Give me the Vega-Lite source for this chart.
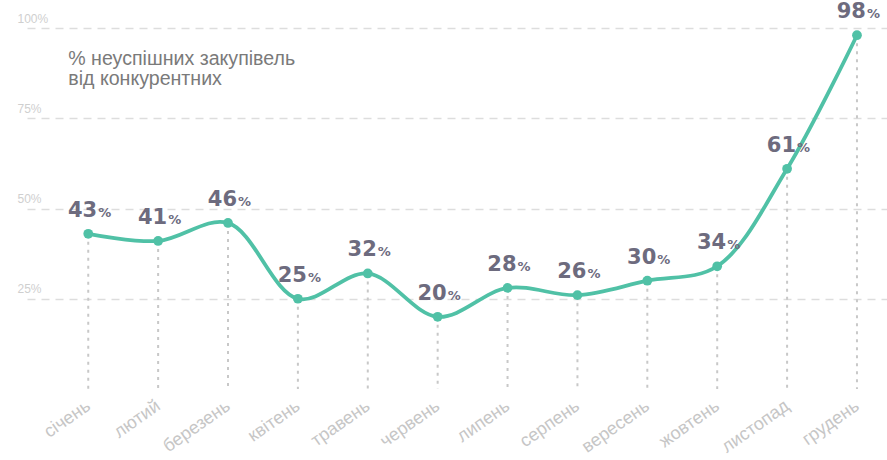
{
  "$schema": "https://vega.github.io/schema/vega-lite/v6.json",
  "width": 860,
  "height": 361,
  "autosize": "none",
  "padding": {"left": 27, "top": 28, "right": 0, "bottom": 71},
  "background": "white",
  "config": {
    "view": {"stroke": null},
    "font": "Liberation Sans"
  },
  "data": {
    "values": [
      {"month": "січень", "v": 43},
      {"month": "лютий", "v": 41},
      {"month": "березень", "v": 46},
      {"month": "квітень", "v": 25},
      {"month": "травень", "v": 32},
      {"month": "червень", "v": 20},
      {"month": "липень", "v": 28},
      {"month": "серпень", "v": 26},
      {"month": "вересень", "v": 30},
      {"month": "жовтень", "v": 34},
      {"month": "листопад", "v": 61},
      {"month": "грудень", "v": 98}
    ]
  },
  "encoding": {
    "x": {
      "field": "month",
      "type": "ordinal",
      "sort": null,
      "scale": {"type": "point", "padding": 0.653, "align": 0.671},
      "axis": {
        "title": null,
        "domain": false,
        "ticks": false,
        "grid": false,
        "labelAngle": -35,
        "labelAlign": "right",
        "labelBaseline": "middle",
        "labelPadding": 15,
        "labelFont": "Liberation Sans",
        "labelFontSize": 18,
        "labelColor": "#c6c6c6"
      }
    }
  },
  "layer": [
    {
      "mark": {"type": "rule", "color": "#c8c8c8", "strokeWidth": 2, "strokeDash": [3, 5]},
      "encoding": {
        "y": {
          "field": "v",
          "type": "quantitative",
          "scale": {"domain": [0, 100], "nice": false, "zero": true},
          "axis": {
            "title": null,
            "domain": false,
            "ticks": false,
            "tickSize": 0,
            "values": [25, 50, 75, 100],
            "labelExpr": "datum.value + '%'",
            "labelAlign": "left",
            "labelBaseline": "alphabetic",
            "labelPadding": 10,
            "labelOffset": -6,
            "labelFont": "Liberation Sans",
            "labelFontSize": 12,
            "labelColor": "#cfcfcf",
            "grid": true,
            "gridColor": "#dddddd",
            "gridWidth": 1.5,
            "gridDash": [8, 6]
          }
        },
        "y2": {"datum": 0}
      }
    },
    {
      "mark": {"type": "line", "color": "#50c1a6", "strokeWidth": 3.8, "interpolate": "catmull-rom"},
      "encoding": {"y": {"field": "v", "type": "quantitative"}}
    },
    {
      "mark": {"type": "point", "filled": true, "opacity": 1, "color": "#50c1a6", "size": 95},
      "encoding": {"y": {"field": "v", "type": "quantitative"}}
    },
    {
      "mark": {"type": "text", "align": "right", "baseline": "alphabetic", "dx": 9, "dy": -17, "font": "DejaVu Sans", "fontWeight": "bold", "fontSize": 21, "color": "#6d6b7e"},
      "encoding": {"y": {"field": "v", "type": "quantitative"}, "text": {"field": "v", "type": "quantitative"}}
    },
    {
      "mark": {"type": "text", "align": "left", "baseline": "alphabetic", "dx": 10, "dy": -17, "font": "DejaVu Sans", "fontWeight": "bold", "fontSize": 13, "color": "#6d6b7e"},
      "encoding": {"y": {"field": "v", "type": "quantitative"}, "text": {"value": "%"}}
    },
    {
      "data": {"values": [{"label": "title"}]},
      "mark": {"type": "text", "align": "left", "baseline": "alphabetic", "dx": -20, "font": "Liberation Sans", "fontSize": 19.6, "lineHeight": 20, "color": "#7a7a7a", "text": ["% неуспішних закупівель", "від конкурентних"]},
      "encoding": {
        "x": {"datum": "січень"},
        "y": {"datum": 89.8}
      }
    }
  ]
}
